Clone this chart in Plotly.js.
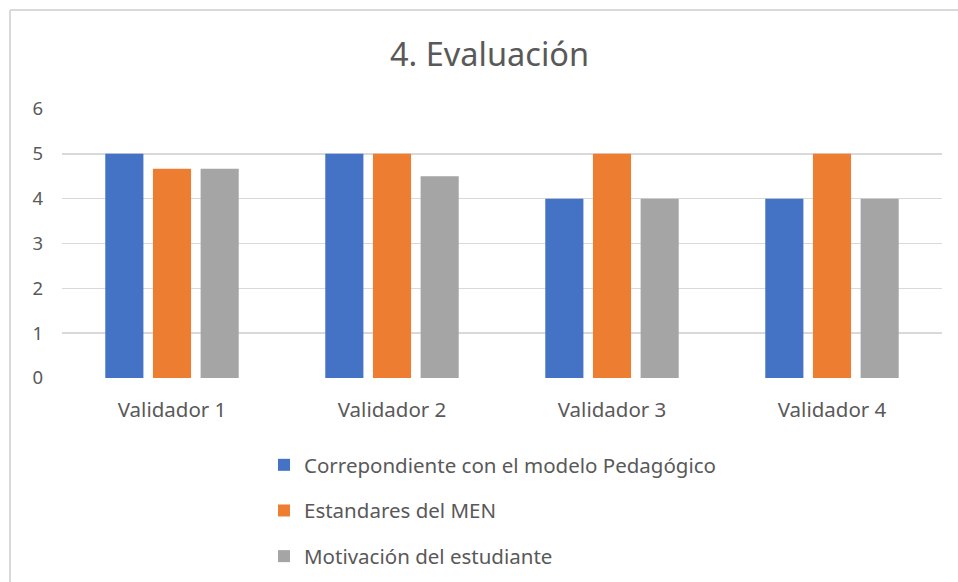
<!DOCTYPE html>
<html>
<head>
<meta charset="utf-8">
<script src="https://cdn.plot.ly/plotly-3.0.1.min.js"></script>
<style>html,body{margin:0;padding:0;background:#fff;}#chart{width:958px;height:582px;}</style>
</head>
<body>
<div id="chart"></div>
<script>
var categories = ["Validador 1", "Validador 2", "Validador 3", "Validador 4"];
var seriesNames = ["Correpondiente con el modelo Pedagógico", "Estandares del MEN", "Motivación del estudiante"];
var modeloPedagogico = [5, 5, 4, 4];
var estandaresMEN = [4.67, 5, 5, 5];
var motivacion = [4.67, 4.5, 4, 4];
var yTicks = [0, 1, 2, 3, 4, 5, 6];
var colors = ["#4472c4", "#ed7d31", "#a5a5a5"];

var seriesValues = [modeloPedagogico, estandaresMEN, motivacion];
var traces = seriesValues.map(function (vals, i) {
  return {
    type: "bar",
    name: seriesNames[i],
    x: categories,
    y: vals,
    marker: {color: colors[i]},
    legendgroup: "g" + i,
    hoverinfo: "x+y+name"
  };
});

var font = "Noto Sans, Open Sans, sans-serif";
var L = 62, R = 16, T = 109, B = 204;
var W = 958 - L - R, H = 582 - T - B;
function px2x(p) { return (p - L) / W; }
function px2y(p) { return (582 - B - p) / H; }

var layout = {
  width: 958, height: 582,
  margin: {l: L, r: R, t: T, b: B, pad: 0, autoexpand: false},
  paper_bgcolor: "#ffffff", plot_bgcolor: "#ffffff",
  font: {family: font, color: "#595959", size: 18},
  title: {text: "4. Evaluación", font: {family: font, size: 32.5, color: "#595959"},
          x: 0.511, xanchor: "center", y: 1 - 55 / 582, yanchor: "middle"},
  barmode: "group", bargap: 0.35, bargroupgap: 0.2,
  xaxis: {type: "category", showgrid: false, zeroline: false, showline: false, tickangle: 0,
          ticks: "", ticklabelstandoff: 17, tickfont: {size: 20.5, color: "#595959"}, fixedrange: true, automargin: false},
  yaxis: {range: [0, 6], tickvals: yTicks, ticktext: yTicks.map(String), showgrid: true,
          gridcolor: "#d9d9d9", gridwidth: 1.5, zeroline: false, showline: false, ticks: "",
          ticklabelstandoff: 18, tickfont: {size: 18.5, color: "#595959"}, fixedrange: true, automargin: false},
  showlegend: true,
  legend: {orientation: "v", traceorder: "grouped", tracegroupgap: 16,
           x: px2x(264), xanchor: "left",
           y: px2y(445), yanchor: "top", font: {size: 20.5, color: "#595959"},
           bgcolor: "rgba(0,0,0,0)", itemclick: false, itemdoubleclick: false},
  shapes: [
    {type: "line", xref: "paper", yref: "paper", x0: px2x(10), x1: px2x(10), y0: px2y(10), y1: px2y(600),
     line: {color: "#d9d9d9", width: 2}},
    {type: "line", xref: "paper", yref: "paper", x0: px2x(10), x1: px2x(970), y0: px2y(10), y1: px2y(10),
     line: {color: "#d9d9d9", width: 2}}
  ]
};

Plotly.newPlot("chart", traces, layout, {displayModeBar: false, staticPlot: true});
</script>
</body>
</html>
